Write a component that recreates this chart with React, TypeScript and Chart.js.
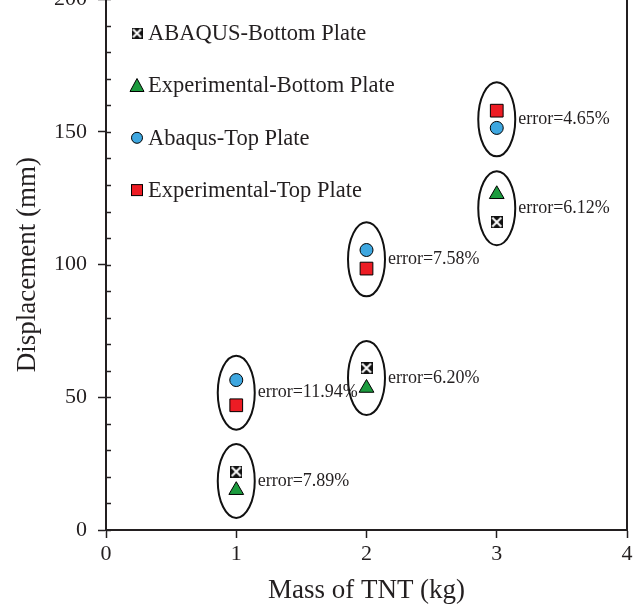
import React, { useEffect, useRef } from 'react';
import { Chart, registerables } from 'chart.js';

Chart.register(...registerables);

// ---- data ----
const massKg = [1, 2, 3];
const abaqusBottom = [22, 61, 116];
const expBottom = [15, 53.5, 126.5];
const abaqusTop = [56.5, 105.5, 151.5];
const expTop = [47, 98.5, 158];
const errorBottom = ['error=7.89%', 'error=6.20%', 'error=6.12%'];
const errorTop = ['error=11.94%', 'error=7.58%', 'error=4.65%'];
const seriesNames = [
  'ABAQUS-Bottom Plate',
  'Experimental-Bottom Plate',
  'Abaqus-Top Plate',
  'Experimental-Top Plate',
];
const xTitle = 'Mass of TNT (kg)';
const yTitle = 'Displacement (mm)';

const SERIF = "'Liberation Serif', 'Times New Roman', serif";
const INK = '#231f20';
const GREEN = '#1c9b3e';
const BLUE = '#3ea7e0';
const RED = '#ed1c24';

const CANVAS_SHIFT = 25;
const CANVAS_H = 609 + CANVAS_SHIFT;

function makeCrossBox(size: number) {
  const c = document.createElement('canvas');
  c.width = size;
  c.height = size;
  const g = c.getContext('2d')!;
  g.fillStyle = '#111';
  g.fillRect(0, 0, size, size);
  g.strokeStyle = '#fff';
  g.lineWidth = 2;
  g.beginPath();
  g.moveTo(1.5, 1.5);
  g.lineTo(size - 1.5, size - 1.5);
  g.moveTo(size - 1.5, 1.5);
  g.lineTo(1.5, size - 1.5);
  g.stroke();
  return c;
}

function drawLegendMarker(ctx: CanvasRenderingContext2D, kind: number, x: number, y: number, cross: HTMLCanvasElement) {
  ctx.save();
  ctx.lineWidth = 1;
  ctx.strokeStyle = '#000';
  if (kind === 0) {
    ctx.drawImage(cross, x - cross.width / 2, y - cross.height / 2);
  } else if (kind === 1) {
    ctx.fillStyle = GREEN;
    ctx.beginPath();
    ctx.moveTo(x, y - 7);
    ctx.lineTo(x + 7, y + 6);
    ctx.lineTo(x - 7, y + 6);
    ctx.closePath();
    ctx.fill();
    ctx.stroke();
  } else if (kind === 2) {
    ctx.fillStyle = BLUE;
    ctx.beginPath();
    ctx.arc(x, y, 5.5, 0, Math.PI * 2);
    ctx.fill();
    ctx.stroke();
  } else {
    ctx.fillStyle = RED;
    ctx.fillRect(x - 5.5, y - 5.5, 11, 11);
    ctx.strokeRect(x - 5.5, y - 5.5, 11, 11);
  }
  ctx.restore();
}

export default function App() {
  const ref = useRef<HTMLCanvasElement | null>(null);

  useEffect(() => {
    if (!ref.current) return;
    const cross = makeCrossBox(12);
    const legendCross = makeCrossBox(11);

    const decor = {
      id: 'decor',
      afterDatasetsDraw(chart: any) {
        const ctx = chart.ctx as CanvasRenderingContext2D;
        const xs = chart.scales.x;
        const ys = chart.scales.y;
        const rx = 18.5;
        const ry = 37;
        const groups = [
          { a: abaqusBottom, b: expBottom, labels: errorBottom },
          { a: abaqusTop, b: expTop, labels: errorTop },
        ];
        ctx.save();
        for (const g of groups) {
          massKg.forEach((m, i) => {
            const cx = xs.getPixelForValue(m);
            const cy = (ys.getPixelForValue(g.a[i]) + ys.getPixelForValue(g.b[i])) / 2;
            ctx.beginPath();
            ctx.ellipse(cx, cy, rx, ry, 0, 0, Math.PI * 2);
            ctx.lineWidth = 2;
            ctx.strokeStyle = '#111';
            ctx.stroke();
            ctx.fillStyle = INK;
            ctx.font = `18px ${SERIF}`;
            ctx.textAlign = 'left';
            ctx.textBaseline = 'middle';
            ctx.fillText(g.labels[i], cx + rx + 3, cy);
          });
        }
        ctx.restore();
      },
      afterDraw(chart: any) {
        const ctx = chart.ctx as CanvasRenderingContext2D;
        const area = chart.chartArea;
        const ys = chart.scales.y;
        ctx.save();
        // right border
        ctx.strokeStyle = INK;
        ctx.lineWidth = 2;
        ctx.beginPath();
        ctx.moveTo(area.right, 0);
        ctx.lineTo(area.right, area.bottom + 1);
        ctx.stroke();
        // inside minor ticks on y axis
        ctx.lineWidth = 1.5;
        for (let v = ys.min; v <= ys.max; v += 10) {
          const py = Math.round(ys.getPixelForValue(v)) + 0.5;
          ctx.beginPath();
          ctx.moveTo(area.left, py);
          ctx.lineTo(area.left + 5, py);
          ctx.stroke();
        }
        // legend
        const rowTop = area.top + 34;
        const rowGap = 52.3;
        ctx.font = `22.5px ${SERIF}`;
        ctx.fillStyle = INK;
        ctx.textAlign = 'left';
        ctx.textBaseline = 'middle';
        seriesNames.forEach((name, i) => {
          const y = rowTop + i * rowGap;
          drawLegendMarker(ctx, i, area.left + 31, y, legendCross);
          ctx.fillText(name, area.left + 42, y + 1);
        });
        ctx.restore();
      },
    };

    const toPts = (ys: number[]) => massKg.map((m, i) => ({ x: m, y: ys[i] }));

    const chart = new Chart(ref.current, {
      type: 'scatter',
      data: {
        datasets: [
          {
            label: seriesNames[0],
            data: toPts(abaqusBottom),
            pointStyle: cross as any,
            pointRadius: 6,
          },
          {
            label: seriesNames[1],
            data: toPts(expBottom),
            pointStyle: 'triangle',
            pointRadius: 8.5,
            backgroundColor: GREEN,
            borderColor: '#000',
            borderWidth: 1,
          },
          {
            label: seriesNames[2],
            data: toPts(abaqusTop),
            pointStyle: 'circle',
            pointRadius: 6.5,
            backgroundColor: BLUE,
            borderColor: '#000',
            borderWidth: 1,
          },
          {
            label: seriesNames[3],
            data: toPts(expTop),
            pointStyle: 'rect',
            pointRadius: 9,
            backgroundColor: RED,
            borderColor: '#000',
            borderWidth: 1,
          },
        ],
      },
      options: {
        responsive: false,
        animation: false,
        events: [],
        layout: { padding: { top: 20, right: 13, left: 0, bottom: 0 } },
        plugins: {
          legend: { display: false },
          tooltip: { enabled: false },
        },
        scales: {
          x: {
            type: 'linear',
            min: 0,
            max: 4,
            ticks: {
              stepSize: 1,
              color: INK,
              font: { family: SERIF, size: 22 },
              padding: 3,
            },
            grid: {
              drawOnChartArea: false,
              tickLength: 8,
              tickColor: INK,
              tickWidth: 1.5,
            },
            border: { color: INK, width: 2 },
            title: {
              display: true,
              text: xTitle,
              color: INK,
              font: { family: SERIF, size: 27 },
              padding: { top: 0, bottom: 2 },
            },
            afterFit(scale: any) {
              scale.height = 79;
            },
          },
          y: {
            type: 'linear',
            min: 0,
            max: 200,
            ticks: {
              stepSize: 50,
              color: INK,
              font: { family: SERIF, size: 22 },
              padding: 11,
            },
            grid: {
              drawOnChartArea: false,
              tickLength: 8,
              tickColor: INK,
              tickWidth: 1.5,
            },
            border: { color: INK, width: 2 },
            title: {
              display: true,
              text: yTitle,
              color: INK,
              font: { family: SERIF, size: 27 },
              padding: { top: 12, bottom: 0 },
            },
            afterFit(scale: any) {
              scale.width = 106;
            },
          },
        },
      },
      plugins: [decor],
    } as any);

    return () => chart.destroy();
  }, []);

  return (
    <div
      style={{
        position: 'fixed',
        left: 0,
        top: 0,
        width: 640,
        height: 609,
        overflow: 'hidden',
        background: '#fff',
      }}
    >
      <canvas
        ref={ref}
        width={640}
        height={CANVAS_H}
        style={{ position: 'absolute', left: 0, top: -CANVAS_SHIFT, width: 640, height: CANVAS_H }}
      />
    </div>
  );
}
